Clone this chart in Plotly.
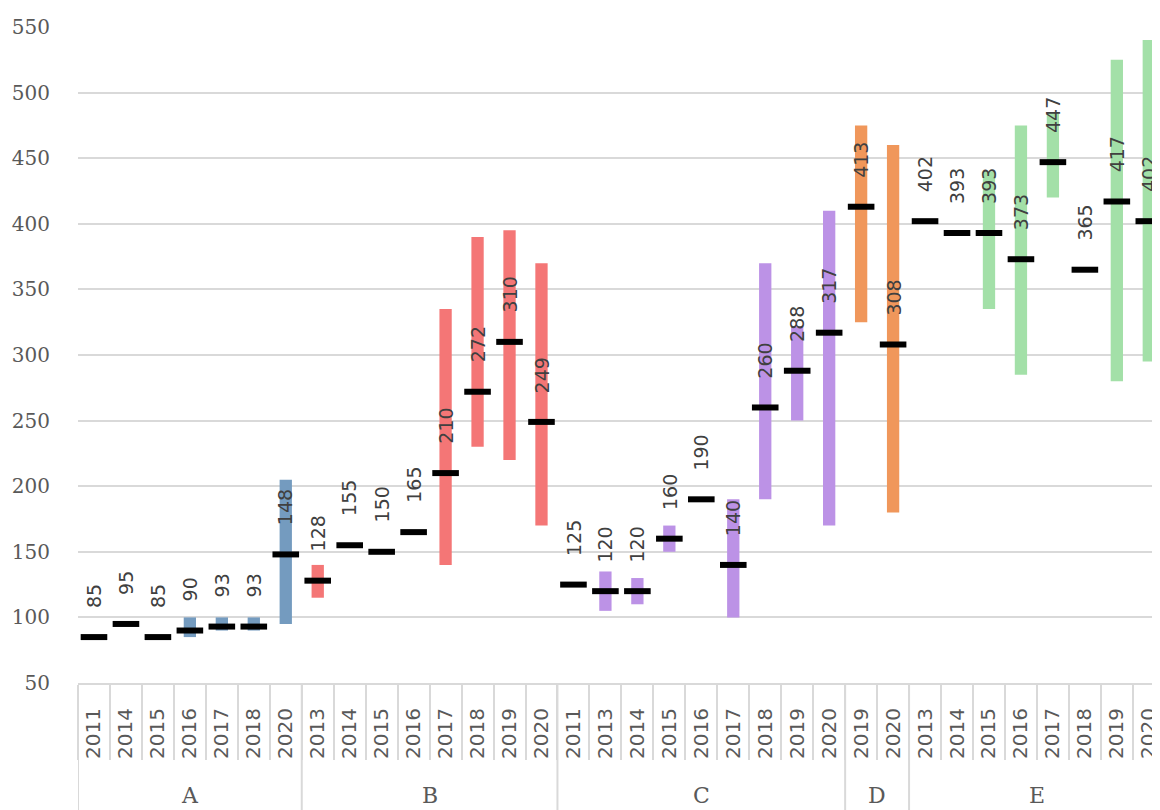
import plotly.graph_objects as go

# categories
groups = ["A"] * 7 + ["B"] * 8 + ["C"] * 9 + ["D"] * 2 + ["E"] * 8
years = [
    "2011", "2014", "2015", "2016", "2017", "2018", "2020",
    "2013", "2014", "2015", "2016", "2017", "2018", "2019", "2020",
    "2011", "2013", "2014", "2015", "2016", "2017", "2018", "2019", "2020",
    "2019", "2020",
    "2013", "2014", "2015", "2016", "2017", "2018", "2019", "2020",
]

# series values
median = [
    85, 95, 85, 90, 93, 93, 148,
    128, 155, 150, 165, 210, 272, 310, 249,
    125, 120, 120, 160, 190, 140, 260, 288, 317,
    413, 308,
    402, 393, 393, 373, 447, 365, 417, 402,
]
low = [
    None, None, None, 85, 90, 90, 95,
    115, None, None, None, 140, 230, 220, 170,
    None, 105, 110, 150, None, 100, 190, 250, 170,
    325, 180,
    None, None, 335, 285, 420, None, 280, 295,
]
high = [
    None, None, None, 100, 100, 100, 205,
    140, None, None, None, 335, 390, 395, 370,
    None, 135, 130, 170, None, 190, 370, 322, 410,
    475, 460,
    None, None, 440, 475, 485, None, 525, 540,
]

group_colors = {
    "A": "#749bbf",
    "B": "#f47676",
    "C": "#bc92e6",
    "D": "#f0975b",
    "E": "#a3e0a8",
}

cats = [g + " " + y for g, y in zip(groups, years)]
span = [h - l if h is not None else None for l, h in zip(low, high)]

fig = go.Figure()

fig.add_trace(
    go.Bar(
        x=cats,
        y=span,
        base=low,
        width=0.385,
        marker=dict(color=[group_colors[g] for g in groups], line=dict(width=0)),
        hoverinfo="skip",
    )
)

fig.add_trace(
    go.Scatter(
        x=cats,
        y=median,
        mode="markers",
        marker=dict(
            symbol="line-ew",
            size=19,
            line=dict(width=6, color="#000000"),
        ),
    )
)

# rotated value labels above each median marker
for c, m in zip(cats, median):
    fig.add_annotation(
        x=c,
        y=m,
        text=str(m),
        textangle=-90,
        showarrow=False,
        yanchor="bottom",
        yshift=28,
        borderpad=0,
        font=dict(family="DejaVu Sans", size=19, color="#404040"),
    )

# group labels and group dividers under the year labels
start = 0
for g in dict.fromkeys(groups):
    n = groups.count(g)
    fig.add_annotation(
        x=start + (n - 1) / 2,
        xref="x",
        y=-0.171,
        yref="paper",
        text=g,
        showarrow=False,
        yanchor="middle",
        font=dict(family="DejaVu Serif", size=22, color="#595959"),
    )
    fig.add_shape(
        type="line",
        xref="x",
        yref="paper",
        x0=start - 0.5,
        x1=start - 0.5,
        y0=0,
        y1=-0.2,
        line=dict(color="#d9d9d9", width=2),
    )
    start += n

# page body keeps an 8px margin, so the figure is 8px smaller each way
fig.update_layout(
    width=1152,
    height=802,
    margin=dict(l=70, r=0, t=19, b=127),
    plot_bgcolor="white",
    paper_bgcolor="white",
    showlegend=False,
    barmode="overlay",
)

fig.update_xaxes(
    type="category",
    tickvals=cats,
    ticktext=years,
    range=[-0.5, 33.1],
    showline=True,
    linecolor="#d9d9d9",
    linewidth=2,
    showgrid=False,
    ticks="outside",
    tickson="boundaries",
    ticklen=75,
    tickwidth=2,
    tickcolor="#d9d9d9",
    tickangle=-90,
    ticklabelstandoff=15,
    tickfont=dict(family="DejaVu Sans", size=20, color="#595959"),
)

fig.update_yaxes(
    range=[50, 550],
    dtick=50,
    showgrid=True,
    gridcolor="#d9d9d9",
    gridwidth=2,
    zeroline=False,
    showline=False,
    ticklabelstandoff=27,
    tickfont=dict(family="DejaVu Serif", size=20, color="#595959"),
)

fig.write_html("out.html")
